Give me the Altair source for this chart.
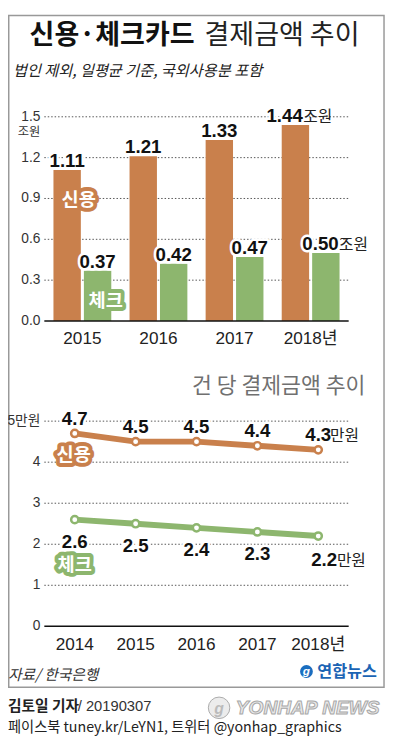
import altair as alt
import pandas as pd

# ---------------- data ----------------
series = ["신용", "체크"]

years_bar = ["2015", "2016", "2017", "2018"]
year_labels_bar = ["2015", "2016", "2017", "2018년"]
credit_amount = [1.11, 1.21, 1.33, 1.44]
check_amount = [0.37, 0.42, 0.47, 0.50]
bar_ticks = [0.0, 0.3, 0.6, 0.9, 1.2, 1.5]

years_line = ["2014", "2015", "2016", "2017", "2018"]
year_labels_line = ["2014", "2015", "2016", "2017", "2018년"]
credit_per = [4.7, 4.5, 4.5, 4.4, 4.3]
check_per = [2.6, 2.5, 2.4, 2.3, 2.2]
line_ticks = [0, 1, 2, 3, 4, 5]
line_tick_labels = ["0", "1", "2", "3", "4", "5만원"]

ORANGE = "#C9804C"
GREEN = "#8DB66E"
KR = "Noto Sans CJK KR, Noto Sans, sans-serif"
NUM = "Liberation Sans, Arial, sans-serif"
TICK = "Liberation Sans, Arial, sans-serif"

bar_df = pd.DataFrame({
    "year": years_bar * 2,
    "series": [series[0]] * 4 + [series[1]] * 4,
    "value": credit_amount + check_amount,
})
bar_tick_df = pd.DataFrame({"tick": bar_ticks})
bar_year_df = pd.DataFrame({"year": years_bar, "label": year_labels_bar})

line_df = pd.DataFrame({
    "year": years_line * 2,
    "series": [series[0]] * 5 + [series[1]] * 5,
    "value": credit_per + check_per,
})
line_tick_df = pd.DataFrame({"tick": line_ticks, "label": line_tick_labels})
line_year_df = pd.DataFrame({"year": years_line, "label": year_labels_line})

one = pd.DataFrame({"k": [1]})

# ---------------- scales ----------------
xb = alt.Scale(domain=years_bar, range=[37, 347], paddingInner=0.24, paddingOuter=0.12)
xo = alt.Scale(domain=series, paddingInner=0.1)
yb = alt.Scale(domain=[0, 1.5], range=[312, 104], nice=False, zero=True)
cs = alt.Scale(domain=series, range=[ORANGE, GREEN])

xl = alt.Scale(type="point", domain=years_line, range=[37, 347], padding=0.5)
yl = alt.Scale(domain=[0, 5], range=[623, 414], nice=False, zero=True)

XB = alt.X("year:N", scale=xb, axis=None)
XO = alt.XOffset("series:N", scale=xo)
YB = alt.Y("value:Q", scale=yb, axis=None)
XL = alt.X("year:N", scale=xl, axis=None)
YL = alt.Y("value:Q", scale=yl, axis=None)
COL = alt.Color("series:N", scale=cs, legend=None)

VAL_SIZE = 19


def txt(text, x, y, size, color="#222", weight="normal", style="normal",
        align="left", font=KR, **kw):
    return alt.Chart(one).mark_text(
        text=text, fontSize=size, color=color, fontWeight=weight,
        fontStyle=style, align=align, baseline="alphabetic", font=font, **kw
    ).encode(x=alt.value(x), y=alt.value(y))


def halo_labels(df, enc, fmt, dx=0, dy=0, align="center", size=VAL_SIZE):
    common = dict(align=align, dx=dx, dy=dy, fontSize=size, font=NUM,
                  fontWeight="bold", baseline="alphabetic")
    halo = alt.Chart(df).mark_text(stroke="white", strokeWidth=5,
                                   strokeJoin="round", fill="white", **common
                                   ).encode(text=alt.Text("value:Q", format=fmt), **enc)
    fg = alt.Chart(df).mark_text(fill="#111", **common
                                 ).encode(text=alt.Text("value:Q", format=fmt), **enc)
    return [halo, fg]


def badge(text, x, y, color, size=19):
    common = dict(text=text, fontSize=size, font=KR, fontWeight="bold",
                  align="center", baseline="alphabetic")
    back = alt.Chart(one).mark_text(stroke=color, strokeWidth=8, strokeJoin="round",
                                    fill=color, **common).encode(x=alt.value(x), y=alt.value(y))
    front = alt.Chart(one).mark_text(fill="white", **common).encode(x=alt.value(x), y=alt.value(y))
    return [back, front]


# ---------------- bar chart ----------------
bar_grid = alt.Chart(bar_tick_df[bar_tick_df.tick > 0]).mark_rule(
    strokeDash=[1.5, 2], color="#555", strokeWidth=1
).encode(y=alt.Y("tick:Q", scale=yb, axis=None), x=alt.value(37), x2=alt.value(347))

bars = alt.Chart(bar_df).mark_bar().encode(x=XB, xOffset=XO, y=YB, color=COL)

bar_base = alt.Chart(bar_tick_df[bar_tick_df.tick == 0]).mark_rule(
    color="#111", strokeWidth=1.5
).encode(y=alt.Y("tick:Q", scale=yb, axis=None), x=alt.value(37), x2=alt.value(347))

bar_tick_text = alt.Chart(bar_tick_df).mark_text(
    align="right", baseline="middle", fontSize=14, font=TICK, color="#333"
).encode(y=alt.Y("tick:Q", scale=yb, axis=None), x=alt.value(33),
         text=alt.Text("tick:Q", format=".1f"))

bar_year_text = alt.Chart(bar_year_df).mark_text(
    baseline="middle", fontSize=17.5, font=NUM + ", " + KR, color="#222"
).encode(x=XB, y=alt.value(330), text="label:N")

benc = dict(x=XB, xOffset=XO, y=YB)
bl_main = halo_labels(bar_df[bar_df.year != "2018"], benc, ".2f", dy=-3)
bl_c18 = halo_labels(bar_df[(bar_df.year == "2018") & (bar_df.series == "신용")], benc,
                     ".2f", dx=7.5, dy=-3, align="right")
bl_k18 = halo_labels(bar_df[(bar_df.year == "2018") & (bar_df.series == "체크")], benc,
                     ".2f", dx=13, dy=-3, align="right")

suffix_c = alt.Chart(bar_df[(bar_df.year == "2018") & (bar_df.series == "신용")]).mark_text(
    align="left", dx=8, dy=-3, fontSize=16, font=KR, color="#222", baseline="alphabetic"
).encode(**benc, text=alt.value("조원"))
suffix_k = alt.Chart(bar_df[(bar_df.year == "2018") & (bar_df.series == "체크")]).mark_text(
    align="left", dx=13.5, dy=-3, fontSize=16, font=KR, color="#222", baseline="alphabetic"
).encode(**benc, text=alt.value("조원"))

bar_chart = alt.layer(bar_grid, bars, bar_base, bar_tick_text, bar_year_text,
                      *bl_main, *bl_c18, *bl_k18, suffix_c, suffix_k)

# ---------------- line chart ----------------
line_grid = alt.Chart(line_tick_df[line_tick_df.tick > 0]).mark_rule(
    strokeDash=[1.5, 2], color="#555", strokeWidth=1
).encode(y=alt.Y("tick:Q", scale=yl, axis=None), x=alt.value(37), x2=alt.value(347))

line_base = alt.Chart(line_tick_df[line_tick_df.tick == 0]).mark_rule(
    color="#111", strokeWidth=1.5
).encode(y=alt.Y("tick:Q", scale=yl, axis=None), x=alt.value(37), x2=alt.value(347))

line_tick_text = alt.Chart(line_tick_df).mark_text(
    align="right", baseline="middle", fontSize=14, font=TICK + ", " + KR, color="#333"
).encode(y=alt.Y("tick:Q", scale=yl, axis=None), x=alt.value(33), text="label:N")

line_year_text = alt.Chart(line_year_df).mark_text(
    baseline="middle", fontSize=17.5, font=NUM + ", " + KR, color="#222"
).encode(x=XL, y=alt.value(642), text="label:N")

lines = alt.Chart(line_df).mark_line(strokeWidth=6, strokeCap="round").encode(
    x=XL, y=YL, color=COL, detail="series:N")
points = alt.Chart(line_df).mark_point(
    shape="circle", size=55, strokeWidth=2.5, fill="white", fillOpacity=1, opacity=1
).encode(x=XL, y=YL, color=COL)

lenc = dict(x=XL, y=YL)
cr = line_df[line_df.series == "신용"]
ck = line_df[line_df.series == "체크"]
ll_c = halo_labels(cr, lenc, ".1f", dy=-9)
ll_k = halo_labels(ck[ck.year != "2018"], lenc, ".1f", dy=29)
ll_k18 = halo_labels(ck[ck.year == "2018"], lenc, ".1f", dx=6, dy=31)

man_c = alt.Chart(cr[cr.year == "2018"]).mark_text(
    align="left", dx=12, dy=-9, fontSize=16, font=KR, color="#222", baseline="alphabetic"
).encode(**lenc, text=alt.value("만원"))
man_k = alt.Chart(ck[ck.year == "2018"]).mark_text(
    align="left", dx=19, dy=31, fontSize=16, font=KR, color="#222", baseline="alphabetic"
).encode(**lenc, text=alt.value("만원"))

line_chart = alt.layer(line_grid, line_base, line_tick_text, line_year_text, lines, points,
                       *ll_c, *ll_k, *ll_k18, man_c, man_k)

# ---------------- decorations ----------------
frame = alt.Chart(one).mark_rect(fill="white", fillOpacity=0, stroke="#999", strokeWidth=1.5).encode(
    x=alt.value(0.75), x2=alt.value(383), y=alt.value(0.75), y2=alt.value(685))

title_bold = txt("신용·체크카드", 22, 30, 27.5, color="#111", weight="bold")
title_reg = txt("결제금액 추이", 358, 30, 27.5, color="#222", weight="normal", align="right")
subtitle = txt("법인 제외, 일평균 기준, 국외사용분 포함", 5, 62, 15.5, color="#222", style="italic")
unit_bar = txt("조원", 33, 124, 12.5, color="#333", align="right")
line_title = txt("건 당 결제금액 추이", 364, 385, 22, color="#707070", align="right")

deco = [frame, title_bold, title_reg, subtitle, unit_bar, line_title]
deco += badge("신용", 72, 195, ORANGE)
deco += badge("체크", 99.5, 298, GREEN)
deco += badge("신용", 67, 455, ORANGE)
deco += badge("체크", 68, 567, GREEN)

source = txt("자료/ 한국은행", 0, 678, 15, color="#333", style="italic")
logo_dot = alt.Chart(one).mark_point(shape="circle", filled=True, size=170, color="#1A6DBF", opacity=1).encode(
    x=alt.value(304), y=alt.value(669))
logo_g = txt("g", 304, 673, 12, color="white", weight="bold", style="italic", align="center", font=TICK)
logo_txt = txt("연합뉴스", 315, 675, 16.5, color="#1B64B4", weight="bold")

wm_dot = alt.Chart(one).mark_point(shape="circle", filled=True, size=480, color="#ececec",
                                   stroke="#aaa", strokeWidth=1, opacity=1).encode(
    x=alt.value(215), y=alt.value(706))
wm_g = txt("g", 215, 712, 16, color="#bbb", weight="bold", style="italic", align="center", font=TICK)
wm_txt = alt.Chart(one).mark_text(
    text="YONHAP NEWS", fontSize=19.5, font=TICK, fontWeight="bold", fontStyle="italic",
    fill="#e8e8e8", stroke="#a8a8a8", strokeWidth=1, align="left", baseline="alphabetic"
).encode(x=alt.value(232), y=alt.value(712))

by_bold = txt("김토일 기자", 0, 709, 15, color="#222", weight="bold")
by_date = txt("/ 20190307", 71, 709, 15, color="#333", font=TICK)
social = txt("페이스북 tuney.kr/LeYN1, 트위터 @yonhap_graphics", 0, 731, 14.5, color="#222")

deco += [source, logo_dot, logo_g, logo_txt, wm_dot, wm_g, wm_txt, by_bold, by_date, social]

chart = alt.layer(*deco[:1], bar_chart, line_chart, *deco[1:]).resolve_scale(
    x="independent", y="independent"
).properties(
    width=384, height=734, padding=0,
    autosize=alt.AutoSizeParams(type="none"),
    background="white",
).configure_view(stroke=None)

chart.save("out.html", embed_options={"renderer": "svg", "actions": False})
